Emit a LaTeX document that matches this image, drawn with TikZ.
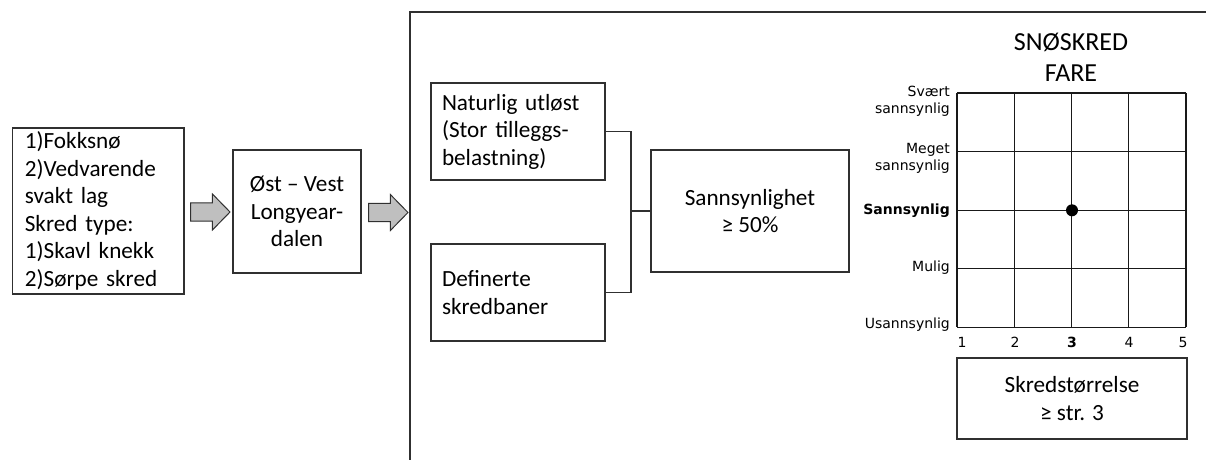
\documentclass[tikz,border=0pt]{standalone}
\usepackage{fontspec}
\setmainfont{Carlito}
\newfontfamily\verd{DejaVu Sans}
\usetikzlibrary{calc}
\definecolor{linegray}{HTML}{303030}
\definecolor{arrowgray}{HTML}{BFBFBF}
\begin{document}
\begin{tikzpicture}[x=1pt,y=-1pt,
  box/.style={draw=linegray, line width=1.3pt, rectangle, inner ysep=0pt,
    font=\fontsize{23.2}{27.5}\selectfont},
  lbox/.style={box, align=left},
  cbox/.style={box, align=center},
  conn/.style={draw=linegray, line width=1.3pt},
  gridline/.style={draw=black!90, line width=1.2pt},
  ylab/.style={anchor=east, align=right, inner sep=0pt, font=\verd\fontsize{14}{17.5}\selectfont},
  xlab/.style={inner sep=0pt, font=\verd\fontsize{14}{17}\selectfont},
  barrow/.pic={\draw[fill=arrowgray, draw=linegray, line width=1pt]
    (0,-9.2) -- (21.7,-9.2) -- (21.7,-18) -- (39.3,0) -- (21.7,18) -- (21.7,9.2) -- (0,9.2) -- cycle;}
]
\useasboundingbox (0,0) rectangle (1206,459);

% outer frame
\draw[draw=linegray, line width=1.5pt] (410,461) -- (410,12) -- (1207,12);

% left boxes
\node[lbox, text width=146.7pt, inner xsep=12.5pt, minimum height=166pt] (n1) at (98.2,211)
  {1)Fokksnø\\2)Vedvarende\\svakt lag\\Skred type:\\1)Skavl knekk\\2)Sørpe skred};
\node[cbox, minimum width=128pt, minimum height=123pt] (n2) at (297,211.5)
  {Øst – Vest\\Longyear-\\dalen};

\pic at ($(n1.east)+(6,1)$) {barrow};
\pic at ($(n2.east)+(7,1)$) {barrow};

% inner boxes
\node[lbox, text width=152pt, inner xsep=11pt, minimum height=97pt] (n3) at (518,131.5)
  {Naturlig utløst\\(Stor tilleggs-\\belastning)};
\node[lbox, text width=152pt, inner xsep=11pt, minimum height=97pt] (n4) at (518,292.5)
  {Definerte\\skredbaner};
\node[cbox, minimum width=198pt, minimum height=122pt] (n5) at (750,211)
  {Sannsynlighet\\≥ 50\%};

\coordinate (j) at (631,211);
\draw[conn] (n3.east) -| (j) |- (n4.east);
\draw[conn] (j) -- (n5.west);

% title
\node[align=center, inner sep=0pt, font=\fontsize{26}{31}\selectfont] (title) at (1071,57)
  {SNØSKRED\\FARE};

% grid
\foreach \x in {957,1014.2,1071.5,1128.7,1186}
  \draw[gridline] (\x,93) -- (\x,327.3);
\foreach \y in {93,151.7,210.3,268.7,327.3}
  \draw[gridline] (957,\y) -- (1186,\y);

\fill[black] (1072,210.3) circle (6pt);

% y labels
\node[ylab] (ya) at (950,101.5) {Svært\\sannsynlig};
\node[ylab] (yb) at (950,158.5) {Meget\\sannsynlig};
\node[ylab] (yc) at (950,210.3) {\bfseries Sannsynlig};
\node[ylab] (yd) at (950,268) {Mulig};
\node[ylab] (ye) at (950,325) {Usannsynlig};

% x labels
\node[xlab] (x1) at (962,342.7) {1};
\node[xlab] (x2) at (1015,342.7) {2};
\node[xlab] (x3) at (1072,342.7) {\bfseries 3};
\node[xlab] (x4) at (1129,342.7) {4};
\node[xlab] (x5) at (1183,342.7) {5};

\node[cbox, minimum width=230pt, minimum height=81pt] (n6) at (1072,398.5)
  {Skredstørrelse\\≥ str. 3};
\end{tikzpicture}
\end{document}
